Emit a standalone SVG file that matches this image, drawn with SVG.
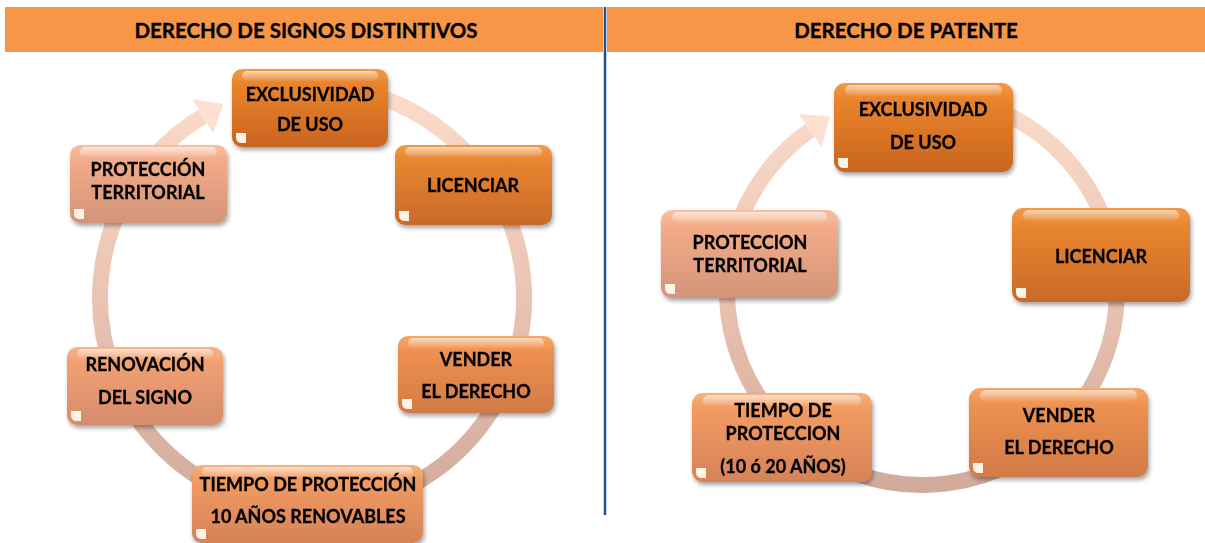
<svg xmlns="http://www.w3.org/2000/svg" width="1205" height="543" viewBox="0 0 1205 543">
<style>
.hd{font-family:Lato,"Liberation Sans",sans-serif;font-weight:700;font-size:20.5px;text-anchor:middle;fill:#000;stroke:#000;stroke-width:0.35px}
.t{font-family:Lato,"Liberation Sans",sans-serif;font-weight:700;font-size:18px;text-anchor:middle;fill:#000;stroke:#000;stroke-width:0.3px}
.ring{fill:none;stroke-width:16}
.hl{fill:url(#hlg)}
.cn{fill:#FFF3E6}
</style>
<defs>
<linearGradient id="ringL" gradientUnits="userSpaceOnUse" x1="0" y1="86" x2="0" y2="512">
<stop offset="0" stop-color="#FBDCCB"/><stop offset="0.5" stop-color="#EBC3B2"/><stop offset="1" stop-color="#D2AA9C"/>
</linearGradient>
<linearGradient id="ringR" gradientUnits="userSpaceOnUse" x1="0" y1="95" x2="0" y2="485">
<stop offset="0" stop-color="#FBDCCB"/><stop offset="0.5" stop-color="#EBC3B2"/><stop offset="1" stop-color="#D2AA9C"/>
</linearGradient>
<linearGradient id="gA" x1="0" y1="0" x2="0" y2="1"><stop offset="0" stop-color="#F29A45"/><stop offset="0.2" stop-color="#E9832C"/><stop offset="1" stop-color="#C9651F"/></linearGradient>
<linearGradient id="gB" x1="0" y1="0" x2="0" y2="1"><stop offset="0" stop-color="#F29A48"/><stop offset="0.2" stop-color="#E8852F"/><stop offset="1" stop-color="#C96A28"/></linearGradient>
<linearGradient id="gC" x1="0" y1="0" x2="0" y2="1"><stop offset="0" stop-color="#F7A868"/><stop offset="0.2" stop-color="#EE914F"/><stop offset="1" stop-color="#D27A48"/></linearGradient>
<linearGradient id="gD" x1="0" y1="0" x2="0" y2="1"><stop offset="0" stop-color="#F8B07A"/><stop offset="0.2" stop-color="#F19A62"/><stop offset="1" stop-color="#D68258"/></linearGradient>
<linearGradient id="gE" x1="0" y1="0" x2="0" y2="1"><stop offset="0" stop-color="#F8B48A"/><stop offset="0.2" stop-color="#F1A072"/><stop offset="1" stop-color="#D58C6C"/></linearGradient>
<linearGradient id="gF" x1="0" y1="0" x2="0" y2="1"><stop offset="0" stop-color="#FAC0A0"/><stop offset="0.2" stop-color="#F3AB88"/><stop offset="1" stop-color="#D39479"/></linearGradient>
<linearGradient id="hlg" x1="0" y1="0" x2="0" y2="1"><stop offset="0" stop-color="#FFFFFF" stop-opacity="0.6"/><stop offset="1" stop-color="#FFFFFF" stop-opacity="0.05"/></linearGradient>
<filter id="sh" x="-10%" y="-10%" width="125%" height="135%">
<feDropShadow dx="1.5" dy="3" stdDeviation="2.2" flood-color="#000" flood-opacity="0.35"/>
</filter>
</defs>
<rect width="1205" height="543" fill="#FFFFFF"/>
<g id="headers">
<rect x="5" y="7" width="598" height="45" fill="#F79646"/>
<rect x="607" y="7" width="598" height="45" fill="#F79646"/>
<text class="hd" x="306" y="38">DERECHO DE SIGNOS DISTINTIVOS</text>
<text class="hd" x="906" y="38">DERECHO DE PATENTE</text>
<line x1="605" y1="7" x2="605" y2="515" stroke="#24528F" stroke-width="2.5"/>
</g>
<g id="connectors">
<path class="ring" stroke="url(#ringL)" d="M366.9,93.2 A212,212 0 1 1 202.8,116.3"/>
<polygon points="192.5,99.2 223.4,103.9 213.1,133.4" fill="#FBDCCB" opacity="0.85"/>
<path class="ring" stroke="url(#ringR)" d="M988.7,106.8 A195,195 0 1 1 810.1,130.3"/>
<polygon points="798.6,113.9 829.8,116.5 821.6,146.7" fill="#FBDCCB" opacity="0.85"/>
</g>
<g id="left-exclusividad" filter="url(#sh)">
<rect x="232" y="69" width="156" height="78" rx="10" fill="url(#gA)"/>
<rect class="hl" x="242" y="71" width="136" height="10" rx="5"/>
<path class="cn" d="M236,133 h10 v10 h-4 q-6,0 -6,-6 z"/>
<text class="t" x="310" y="101">EXCLUSIVIDAD</text>
<text class="t" x="310" y="131">DE USO</text>
</g>
<g id="left-licenciar" filter="url(#sh)">
<rect x="395" y="145" width="157" height="80" rx="10" fill="url(#gB)"/>
<rect class="hl" x="405" y="147" width="137" height="10" rx="5"/>
<path class="cn" d="M399,211 h10 v10 h-4 q-6,0 -6,-6 z"/>
<text class="t" x="473" y="192">LICENCIAR</text>
</g>
<g id="left-vender" filter="url(#sh)">
<rect x="398" y="336" width="156" height="77" rx="10" fill="url(#gC)"/>
<rect class="hl" x="408" y="338" width="136" height="10" rx="5"/>
<path class="cn" d="M402,399 h10 v10 h-4 q-6,0 -6,-6 z"/>
<text class="t" x="476" y="366">VENDER</text>
<text class="t" x="476" y="398">EL DERECHO</text>
</g>
<g id="left-tiempo" filter="url(#sh)">
<rect x="192" y="465" width="231" height="78" rx="10" fill="url(#gD)"/>
<rect class="hl" x="202" y="467" width="211" height="10" rx="5"/>
<path class="cn" d="M196,529 h10 v10 h-4 q-6,0 -6,-6 z"/>
<text class="t" x="308" y="491">TIEMPO DE PROTECCIÓN</text>
<text class="t" x="308" y="523">10 AÑOS RENOVABLES</text>
</g>
<g id="left-renovacion" filter="url(#sh)">
<rect x="67" y="347" width="156" height="78" rx="10" fill="url(#gE)"/>
<rect class="hl" x="77" y="349" width="136" height="10" rx="5"/>
<path class="cn" d="M71,411 h10 v10 h-4 q-6,0 -6,-6 z"/>
<text class="t" x="145" y="371">RENOVACIÓN</text>
<text class="t" x="145" y="404">DEL SIGNO</text>
</g>
<g id="left-proteccion" filter="url(#sh)">
<rect x="70" y="145" width="157" height="78" rx="10" fill="url(#gF)"/>
<rect class="hl" x="80" y="147" width="137" height="10" rx="5"/>
<path class="cn" d="M74,209 h10 v10 h-4 q-6,0 -6,-6 z"/>
<text class="t" x="148" y="176">PROTECCIÓN</text>
<text class="t" x="148" y="199">TERRITORIAL</text>
</g>
<g id="right-exclusividad" filter="url(#sh)">
<rect x="834" y="83" width="179" height="89" rx="11" fill="url(#gA)"/>
<rect class="hl" x="845" y="85" width="157" height="11" rx="5.5"/>
<path class="cn" d="M838,158 h10 v10 h-4 q-6,0 -6,-6 z"/>
<text class="t" x="923" y="116">EXCLUSIVIDAD</text>
<text class="t" x="923" y="149">DE USO</text>
</g>
<g id="right-licenciar" filter="url(#sh)">
<rect x="1012" y="208" width="178" height="94" rx="11" fill="url(#gB)"/>
<rect class="hl" x="1023" y="210" width="156" height="11" rx="5.5"/>
<path class="cn" d="M1016,288 h10 v10 h-4 q-6,0 -6,-6 z"/>
<text class="t" x="1101" y="263">LICENCIAR</text>
</g>
<g id="right-vender" filter="url(#sh)">
<rect x="969" y="388" width="179" height="89" rx="11" fill="url(#gC)"/>
<rect class="hl" x="980" y="390" width="157" height="11" rx="5.5"/>
<path class="cn" d="M973,463 h10 v10 h-4 q-6,0 -6,-6 z"/>
<text class="t" x="1059" y="422">VENDER</text>
<text class="t" x="1059" y="454">EL DERECHO</text>
</g>
<g id="right-tiempo" filter="url(#sh)">
<rect x="692" y="393" width="180" height="89" rx="11" fill="url(#gD)"/>
<rect class="hl" x="703" y="395" width="158" height="11" rx="5.5"/>
<path class="cn" d="M696,468 h10 v10 h-4 q-6,0 -6,-6 z"/>
<text class="t" x="783" y="417">TIEMPO DE</text>
<text class="t" x="783" y="440">PROTECCION</text>
<text class="t" x="783" y="473">(10 ó 20 AÑOS)</text>
</g>
<g id="right-proteccion" filter="url(#sh)">
<rect x="661" y="210" width="177" height="88" rx="11" fill="url(#gF)"/>
<rect class="hl" x="672" y="212" width="155" height="11" rx="5.5"/>
<path class="cn" d="M665,284 h10 v10 h-4 q-6,0 -6,-6 z"/>
<text class="t" x="750" y="249">PROTECCION</text>
<text class="t" x="750" y="272">TERRITORIAL</text>
</g>
</svg>
